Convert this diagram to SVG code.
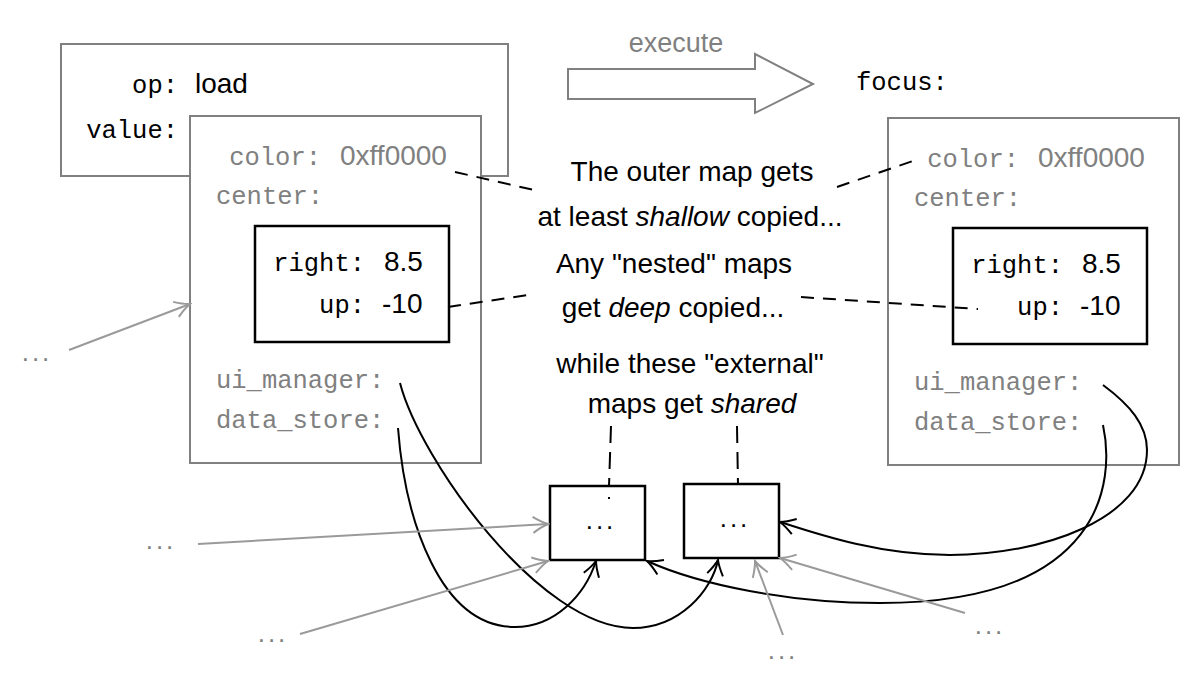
<svg xmlns="http://www.w3.org/2000/svg" width="1192" height="700" viewBox="0 0 1192 700">
<style>
.box{fill:#fff;stroke:#808080;stroke-width:2}
.ibox{fill:#fff;stroke:#000;stroke-width:2.5}
.mono{font-family:"Liberation Mono","DejaVu Sans Mono",monospace;font-size:25.5px}
.sans{font-family:"Liberation Sans",Arial,sans-serif;font-size:28px}
.g{fill:#808080}
.k{fill:#000}
.dots{font-family:"Liberation Sans",Arial,sans-serif;font-size:26px;letter-spacing:3px;text-anchor:middle}
.cap{font-family:"Liberation Sans",Arial,sans-serif;font-size:28px;text-anchor:middle;fill:#000}
.dash{fill:none;stroke:#000;stroke-width:2;stroke-dasharray:13 9}
.curve{fill:none;stroke:#000;stroke-width:2;marker-end:url(#ahk)}
.garrow{fill:none;stroke:#9a9a9a;stroke-width:2;marker-end:url(#ahg)}
</style>
<defs>
<marker id="ahk" viewBox="-18 -10 20 20" refX="0" refY="0" markerWidth="20" markerHeight="20" markerUnits="userSpaceOnUse" orient="auto">
<path d="M -15 -8 Q -6 -2 0 0 Q -6 2 -15 8" fill="none" stroke="#000" stroke-width="2"/>
</marker>
<marker id="ahg" viewBox="-18 -10 20 20" refX="0" refY="0" markerWidth="20" markerHeight="20" markerUnits="userSpaceOnUse" orient="auto">
<path d="M -15 -8 Q -6 -2 0 0 Q -6 2 -15 8" fill="none" stroke="#9a9a9a" stroke-width="2"/>
</marker>
</defs>
<rect width="1192" height="700" fill="#fff"/>

<g id="instruction">
<rect class="box" x="61" y="44" width="447" height="132"/>
<text class="mono k" x="178" y="93" text-anchor="end">op:</text>
<text class="sans k" x="195" y="93">load</text>
<text class="mono k" x="178" y="138" text-anchor="end">value:</text>
</g>

<g id="value-map">
<rect class="box" x="190" y="116" width="291" height="347"/>
<text class="mono g" x="321" y="165" text-anchor="end">color:</text>
<text class="sans g" x="340" y="165">0xff0000</text>
<text class="mono g" x="216" y="204">center:</text>
<text class="mono g" x="216" y="388">ui_manager:</text>
<text class="mono g" x="216" y="428">data_store:</text>
</g>
<g id="value-center">
<rect class="ibox" x="255" y="226" width="194" height="116"/>
<text class="mono k" x="365" y="271" text-anchor="end">right:</text>
<text class="sans k" x="384" y="271">8.5</text>
<text class="mono k" x="365" y="313" text-anchor="end">up:</text>
<text class="sans k" x="382" y="313">-10</text>
</g>

<g id="execute-arrow">
<text class="sans g" x="676" y="52" text-anchor="middle" style="font-size:27px">execute</text>
<polygon points="568,69 755,69 755,54 813,84 755,113 755,99 568,99" fill="#fff" stroke="#808080" stroke-width="2"/>
</g>

<g id="focus-label">
<text class="mono k" x="856" y="90">focus:</text>
</g>

<g id="focus-map">
<rect class="box" x="888" y="118" width="291" height="347"/>
<text class="mono g" x="1019" y="167" text-anchor="end">color:</text>
<text class="sans g" x="1038" y="167">0xff0000</text>
<text class="mono g" x="914" y="206">center:</text>
<text class="mono g" x="914" y="390">ui_manager:</text>
<text class="mono g" x="914" y="430">data_store:</text>
</g>
<g id="focus-center">
<rect class="ibox" x="953" y="228" width="194" height="116"/>
<text class="mono k" x="1063" y="273" text-anchor="end">right:</text>
<text class="sans k" x="1082" y="273">8.5</text>
<text class="mono k" x="1063" y="315" text-anchor="end">up:</text>
<text class="sans k" x="1080" y="315">-10</text>
</g>

<g id="notes">
<text class="cap" x="692" y="181">The outer map gets</text>
<text class="cap" x="690" y="226">at least <tspan font-style="italic">shallow</tspan> copied...</text>
<text class="cap" x="674" y="273">Any "nested" maps</text>
<text class="cap" x="673" y="317">get <tspan font-style="italic">deep</tspan> copied...</text>
<text class="cap" x="690" y="373">while these "external"</text>
<text class="cap" x="692" y="413">maps get <tspan font-style="italic">shared</tspan></text>
</g>

<g id="ext-ui">
<rect class="ibox" x="550" y="486" width="95" height="74"/>
<text class="dots k" x="601" y="529">...</text>
</g>
<g id="ext-data">
<rect class="ibox" x="684" y="484" width="95" height="74"/>
<text class="dots k" x="735" y="527">...</text>
</g>

<g id="others" class="dots g">
<text x="37" y="361">...</text>
<text x="161" y="549">...</text>
<text x="273" y="642">...</text>
<text x="783" y="659">...</text>
<text x="990" y="634">...</text>
</g>

<g id="connectors">
<path class="dash" d="M455,172 L534,190"/>
<path class="dash" d="M837,187 L913,161"/>
<path class="dash" d="M448,307 L528,295"/>
<path class="dash" d="M801,297 L978,309"/>
<path class="dash" d="M611,426 L609,486 M609,497 L609,499" style="stroke-dasharray:17 9"/>
<path class="dash" d="M737,426 L738,485" style="stroke-dasharray:17 9"/>

<path class="curve" d="M400,383 C420,460 540,628 633,628 C680,628 712,590 718,560"/>
<path class="curve" d="M398,428 C405,520 440,627 515,627 C555,627 585,595 596,561"/>
<path class="curve" d="M1103,385 C1130,405 1147,425 1147,450 C1147,520 1040,555 950,555 C880,555 820,535 780,522"/>
<path class="curve" d="M1103,425 C1115,480 1105,603 880,603 C790,603 700,585 647,561"/>

<path class="garrow" d="M69,350 L190,304"/>
<path class="garrow" d="M198,544 L548,524"/>
<path class="garrow" d="M300,634 L548,561"/>
<path class="garrow" d="M783,635 L755,561"/>
<path class="garrow" d="M965,613 L780,558"/>
</g>
</svg>
